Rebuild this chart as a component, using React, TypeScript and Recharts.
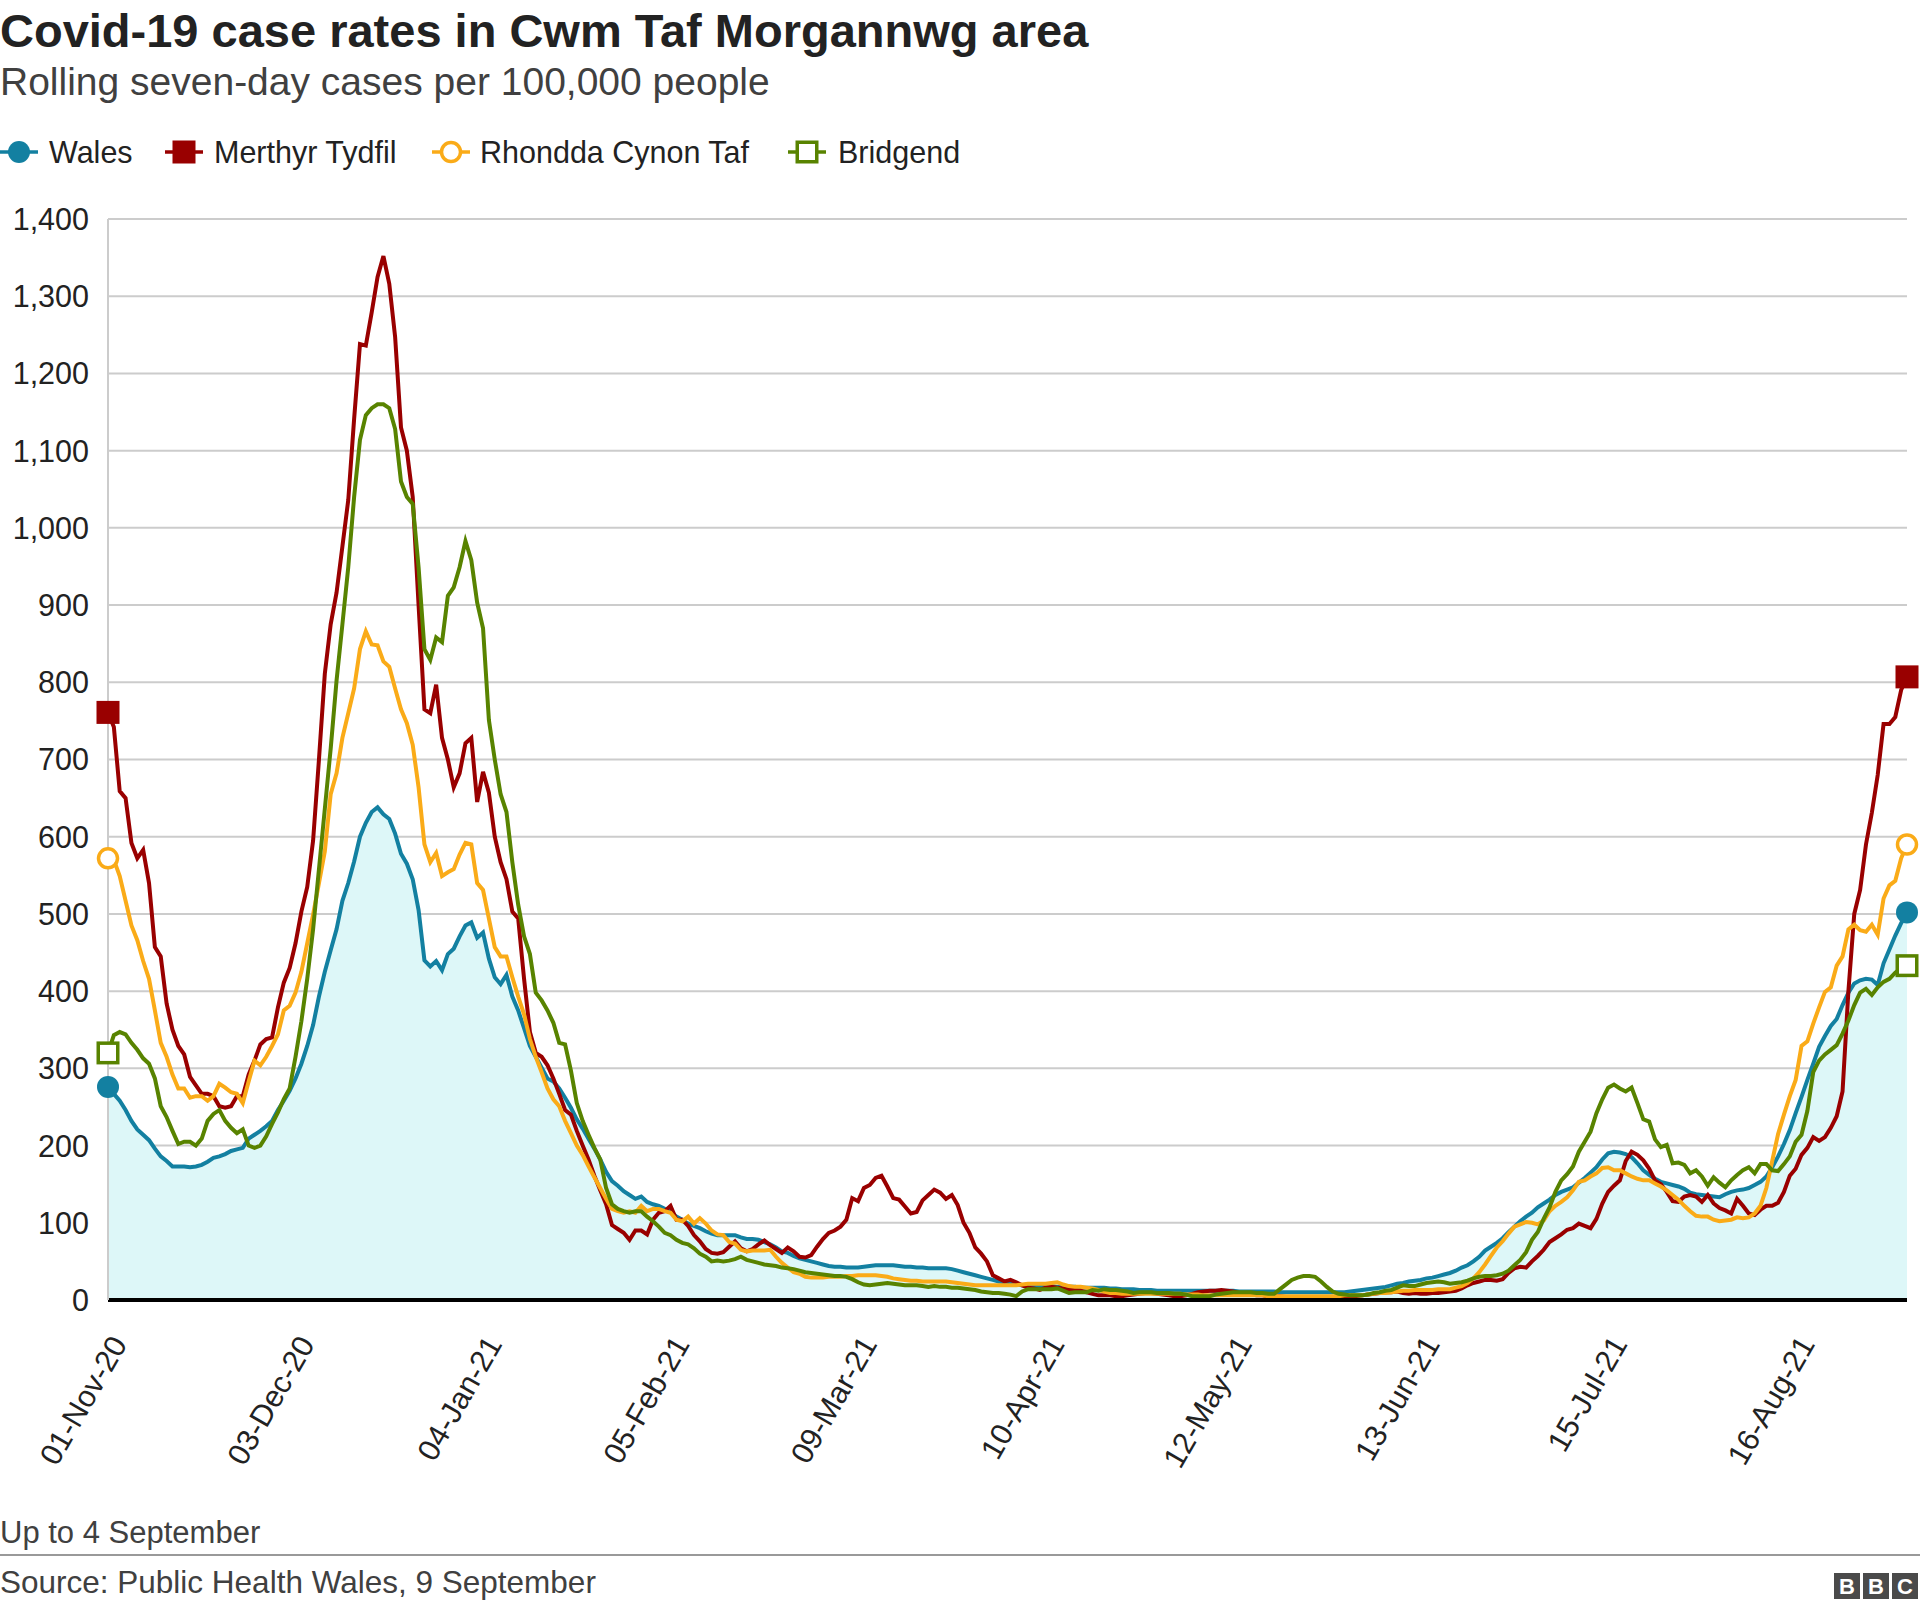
import React from "react";
import { Area, CartesianGrid, ComposedChart, Line, XAxis, YAxis } from "recharts";

// day 0 = 01-Nov-20, last day = 04-Sep-21
const TICK_DAYS = [0, 32, 64, 96, 128, 160, 192, 224, 256, 288];
const TICK_LABELS = ["01-Nov-20", "03-Dec-20", "04-Jan-21", "05-Feb-21", "09-Mar-21", "10-Apr-21", "12-May-21", "13-Jun-21", "15-Jul-21", "16-Aug-21"];
const Y_TICKS = [0, 100, 200, 300, 400, 500, 600, 700, 800, 900, 1000, 1100, 1200, 1300, 1400];

const WALES = [
  276, 267, 258, 246, 232, 221, 214, 207, 196, 186,
  180, 173, 173, 173, 172, 173, 175, 179, 184, 186,
  189, 193, 195, 197, 209, 214, 219, 225, 232, 246,
  258, 271, 287, 306, 329, 356, 393, 425, 453, 480,
  517, 540, 568, 600, 618, 632, 638, 629, 623, 604,
  578, 565, 545, 505, 440, 432, 439, 427, 448, 455,
  471, 485, 489, 469, 476, 442, 418, 409, 421, 393,
  375, 352, 329, 315, 301, 287, 283, 274, 262, 249,
  234, 222, 209, 196, 182, 166, 154, 148, 141, 136,
  131, 134, 127, 124, 122, 118, 115, 108, 104, 99,
  96, 93, 89, 86, 84, 84, 84, 84, 81, 79,
  79, 78, 75, 72, 68, 63, 61, 57, 54, 52,
  50, 48, 46, 44, 43, 43, 42, 42, 42, 43,
  44, 45, 45, 45, 45, 44, 43, 43, 42, 42,
  41, 41, 41, 41, 40, 38, 36, 34, 32, 30,
  28, 26, 24, 23, 21, 20, 19, 19, 18, 18,
  18, 18, 17, 17, 17, 17, 16, 16, 16, 16,
  16, 15, 15, 14, 14, 14, 13, 13, 13, 12,
  12, 12, 12, 12, 12, 12, 12, 12, 12, 12,
  12, 12, 12, 11, 11, 11, 11, 11, 11, 11,
  10, 10, 10, 10, 10, 10, 10, 10, 10, 10,
  10, 10, 11, 12, 13, 14, 15, 16, 17, 19,
  21, 22, 24, 25, 26, 28, 29, 31, 33, 35,
  38, 42, 45, 50, 56, 64, 69, 74, 80, 88,
  95, 102, 108, 113, 120, 125, 130, 136, 140, 143,
  146, 152, 158, 165, 172, 182, 190, 192, 191, 189,
  185, 177, 168, 162, 157, 153, 151, 149, 147, 144,
  139, 137, 136, 135, 134, 133, 137, 140, 142, 143,
  145, 149, 153, 160, 172, 186, 202, 220, 242, 263,
  285, 306, 328, 342, 355, 364, 382, 398, 410, 414,
  416, 415, 408, 436, 454, 472, 488, 502,
];

const MERTHYR = [
  761, 742, 659, 650, 592, 572, 583, 540, 457, 445,
  384, 350, 329, 318, 289, 278, 267, 267, 264, 251,
  249, 251, 264, 264, 292, 310, 331, 338, 340, 379,
  411, 430, 462, 503, 535, 595, 700, 811, 875, 916,
  976, 1036, 1141, 1238, 1236, 1279, 1325, 1352, 1316, 1247,
  1130, 1100, 1040, 900, 765, 760, 797, 728, 700, 664,
  682, 721, 728, 645, 684, 657, 600, 567, 545, 503,
  494, 416, 347, 320, 315, 304, 287, 267, 246, 240,
  219, 200, 182, 161, 142, 124, 97, 92, 87, 78,
  90, 90, 85, 104, 113, 115, 122, 104, 104, 96,
  84, 76, 66, 61, 60, 62, 69, 76, 67, 63,
  66, 72, 77, 71, 66, 61, 68, 63, 56, 55,
  58, 69, 79, 87, 90, 95, 104, 132, 128, 145,
  149, 158, 161, 147, 132, 130, 121, 112, 114, 129,
  136, 143, 139, 131, 136, 123, 100, 87, 68, 60,
  50, 32, 28, 24, 26, 23, 19, 16, 15, 13,
  16, 17, 16, 15, 13, 13, 12, 10, 8, 6,
  6, 6, 5, 5, 6, 7, 8, 9, 9, 8,
  7, 6, 5, 5, 6, 8, 10, 11, 12, 12,
  13, 12, 11, 9, 8, 7, 6, 6, 5, 5,
  5, 4, 4, 4, 4, 4, 4, 4, 3, 3,
  3, 4, 4, 5, 6, 7, 8, 9, 10, 10,
  11, 9, 8, 9, 8, 8, 9, 9, 10, 11,
  12, 15, 19, 22, 24, 26, 26, 25, 27, 35,
  41, 43, 42, 50, 57, 65, 75, 80, 85, 91,
  93, 99, 96, 93, 105, 125, 140, 148, 155, 180,
  192, 188, 181, 170, 155, 150, 140, 128, 127, 134,
  136, 134, 127, 136, 125, 119, 116, 112, 131, 122,
  112, 110, 117, 122, 122, 126, 140, 161, 170, 188,
  197, 211, 206, 211, 223, 238, 270, 400, 500, 531,
  590, 631, 680, 746, 746, 755, 790, 807,
];

const RHONDDA = [
  572, 570, 549, 517, 485, 466, 439, 416, 375, 333,
  315, 292, 274, 274, 262, 264, 264, 258, 264, 280,
  275, 269, 267, 255, 283, 310, 304, 315, 329, 344,
  375, 381, 398, 425, 462, 499, 540, 581, 655, 682,
  728, 760, 792, 843, 866, 849, 848, 827, 820, 792,
  765, 747, 719, 664, 590, 567, 579, 549, 554, 558,
  577, 592, 590, 540, 531, 494, 457, 445, 445, 418,
  393, 370, 338, 315, 295, 274, 260, 251, 232, 216,
  200, 188, 173, 159, 145, 131, 118, 115, 113, 115,
  113, 122, 115, 118, 118, 115, 113, 104, 102, 108,
  99, 106, 99, 90, 85, 84, 75, 73, 65, 63,
  64, 64, 64, 65, 56, 48, 42, 36, 34, 30,
  29, 29, 29, 30, 30, 30, 31, 31, 32, 32,
  32, 32, 31, 30, 28, 27, 26, 25, 25, 24,
  24, 24, 24, 24, 23, 22, 21, 20, 19, 19,
  19, 19, 19, 19, 19, 19, 20, 21, 21, 21,
  21, 22, 23, 20, 18, 17, 17, 16, 15, 13,
  11, 9, 9, 8, 8, 8, 8, 8, 8, 8,
  8, 8, 8, 8, 7, 7, 7, 6, 6, 6,
  6, 6, 6, 6, 6, 6, 6, 6, 5, 5,
  5, 5, 5, 5, 5, 5, 5, 5, 5, 5,
  5, 6, 6, 6, 6, 7, 8, 9, 9, 10,
  11, 12, 12, 13, 13, 13, 13, 14, 14, 14,
  16, 18, 22, 28, 36, 46, 57, 68, 76, 86,
  95, 98, 101, 100, 98, 103, 115, 122, 127, 133,
  142, 153, 155, 160, 164, 171, 172, 168, 168, 164,
  160, 157, 155, 155, 151, 147, 142, 136, 130, 122,
  115, 109, 108, 108, 104, 102, 103, 104, 107, 106,
  107, 112, 122, 145, 180, 215, 240, 264, 285, 329,
  335, 358, 379, 399, 405, 433, 445, 480, 486, 479,
  477, 486, 473, 520, 537, 543, 572, 590,
];

const BRIDGEND = [
  320, 343, 347, 344, 333, 324, 313, 306, 287, 251,
  237, 219, 202, 205, 205, 200, 209, 232, 241, 246,
  232, 223, 216, 221, 200, 197, 200, 212, 228, 243,
  260, 274, 315, 361, 416, 480, 558, 636, 714, 802,
  875, 949, 1040, 1114, 1146, 1155, 1160, 1160, 1155, 1128,
  1060, 1040, 1031, 949, 843, 829, 858, 852, 912, 923,
  949, 983, 958, 903, 870, 751, 700, 655, 632, 567,
  512, 471, 448, 398, 388, 375, 359, 333, 331, 297,
  255, 232, 214, 197, 182, 145, 124, 118, 115, 113,
  115, 115, 108, 102, 95, 87, 84, 78, 74, 72,
  67, 60, 56, 50, 51, 50, 51, 53, 56, 52,
  50, 48, 46, 45, 44, 42, 41, 40, 38, 36,
  35, 34, 33, 32, 31, 31, 30, 27, 23, 20,
  19, 20, 21, 22, 21, 20, 19, 19, 19, 18,
  17, 18, 17, 17, 16, 16, 15, 14, 13, 11,
  10, 9, 9, 8, 7, 5, 11, 14, 14, 14,
  14, 14, 15, 12, 9, 10, 10, 10, 13, 12,
  14, 13, 13, 12, 11, 9, 10, 10, 10, 9,
  9, 9, 8, 8, 7, 5, 5, 5, 5, 7,
  8, 9, 10, 10, 10, 10, 9, 9, 8, 8,
  14, 20, 26, 29, 31, 31, 30, 24, 17, 11,
  8, 7, 6, 6, 6, 7, 9, 10, 12, 13,
  16, 19, 18, 18, 20, 22, 23, 24, 23, 21,
  22, 23, 25, 28, 30, 31, 31, 32, 34, 38,
  45, 52, 62, 78, 88, 105, 120, 140, 155, 163,
  173, 192, 205, 218, 242, 260, 275, 279, 274, 270,
  275, 255, 234, 231, 208, 198, 201, 177, 178, 175,
  164, 168, 160, 148, 159, 152, 146, 155, 162, 168,
  172, 164, 176, 176, 168, 167, 176, 186, 205, 214,
  245, 295, 310, 318, 324, 330, 345, 362, 382, 398,
  403, 395, 405, 412, 416, 424, 430, 433,
];

const LAST = WALES.length - 1;
const PLOT_BOTTOM = 1300;
const FONT = "'Liberation Sans', Arial, Helvetica, sans-serif";

const COLORS = { wales: "#1380A1", merthyr: "#990000", rhondda: "#FAAB18", bridgend: "#588300" };

const data = WALES.map((w, i) => ({
  day: i,
  wales: w,
  merthyr: MERTHYR[i],
  rhondda: RHONDDA[i],
  bridgend: BRIDGEND[i],
}));

const Marker = ({ kind, color, open, cx, cy }: any) => {
  if (kind === "circle") {
    return open
      ? <circle cx={cx} cy={cy} r={9.5} fill="#fff" stroke={color} strokeWidth={3.5} />
      : <circle cx={cx} cy={cy} r={11} fill={color} />;
  }
  const s = open ? 19.5 : 23;
  return (
    <rect x={cx - s / 2} y={cy - s / 2} width={s} height={s}
      fill={open ? "#fff" : color} stroke={open ? color : "none"} strokeWidth={open ? 3.5 : 0} />
  );
};

const endDot = (kind: string, color: string, open: boolean) => (props: any) => {
  const { cx, cy, index } = props;
  const k = `${color}-${index}`;
  if ((index !== 0 && index !== LAST) || cx == null) return <g key={k} />;
  return <g key={k}><Marker kind={kind} color={color} open={open} cx={cx} cy={cy} /></g>;
};

const XTick = (props: any) => {
  const { x, payload } = props;
  const label = TICK_LABELS[TICK_DAYS.indexOf(payload.value)];
  const ax = x + 20;
  const ay = PLOT_BOTTOM + 44;
  return (
    <text x={ax} y={ay} transform={`rotate(-60 ${ax} ${ay})`} textAnchor="end"
      fontSize={30.5} fontFamily={FONT} fill="#222">{label}</text>
  );
};

const YTick = (props: any) => {
  const { y, payload } = props;
  return (
    <text x={89} y={y} dy="0.36em" textAnchor="end" fontSize={30.5} fontFamily={FONT} fill="#222">
      {payload.value.toLocaleString("en-US")}
    </text>
  );
};

const LEGEND = [
  { name: "Wales", kind: "circle", color: COLORS.wales, open: false, cx: 19, tx: 49 },
  { name: "Merthyr Tydfil", kind: "square", color: COLORS.merthyr, open: false, cx: 184, tx: 214 },
  { name: "Rhondda Cynon Taf", kind: "circle", color: COLORS.rhondda, open: true, cx: 451, tx: 480 },
  { name: "Bridgend", kind: "square", color: COLORS.bridgend, open: true, cx: 807, tx: 838 },
];

export default function App() {
  return (
    <div style={{ position: "absolute", left: 0, top: 0, width: 1920, height: 1609, background: "#fff", fontFamily: FONT }}>
      <div style={{ position: "absolute", left: 0, top: 0 }}>
        <ComposedChart width={1920} height={1500} data={data}
          margin={{ top: 219, right: 13, bottom: 80, left: 0 }}>
          <CartesianGrid vertical={false} stroke="#cccccc" strokeWidth={2} />
          <XAxis dataKey="day" type="number" domain={[0, LAST]} ticks={TICK_DAYS} interval={0}
            tick={<XTick />} tickLine={false} height={120}
            axisLine={{ stroke: "#000", strokeWidth: 4 }} />
          <YAxis domain={[0, 1400]} ticks={Y_TICKS} interval={0} width={108}
            tick={<YTick />} tickLine={false} axisLine={{ stroke: "#cccccc", strokeWidth: 2 }} />
          <Area type="linear" dataKey="wales" stroke="none" fill="#ddf7f8" fillOpacity={1}
            isAnimationActive={false} dot={false} activeDot={false} />
          <Line type="linear" dataKey="wales" stroke={COLORS.wales} strokeWidth={4}
            dot={endDot("circle", COLORS.wales, false)} activeDot={false} isAnimationActive={false} />
          <Line type="linear" dataKey="merthyr" stroke={COLORS.merthyr} strokeWidth={4}
            dot={endDot("square", COLORS.merthyr, false)} activeDot={false} isAnimationActive={false} />
          <Line type="linear" dataKey="rhondda" stroke={COLORS.rhondda} strokeWidth={4}
            dot={endDot("circle", COLORS.rhondda, true)} activeDot={false} isAnimationActive={false} />
          <Line type="linear" dataKey="bridgend" stroke={COLORS.bridgend} strokeWidth={4}
            dot={endDot("square", COLORS.bridgend, true)} activeDot={false} isAnimationActive={false} />
        </ComposedChart>
      </div>
      <svg width={1920} height={1609} style={{ position: "absolute", left: 0, top: 0, pointerEvents: "none" }}
        fontFamily={FONT}>
        <text x={0} y={47} fontSize={47} fontWeight="bold" fill="#222">
          Covid-19 case rates in Cwm Taf Morgannwg area
        </text>
        <text x={0} y={95} fontSize={39} fill="#404040">Rolling seven-day cases per 100,000 people</text>
        {LEGEND.map((l) => (
          <g key={l.name}>
            <line x1={l.cx - 19} x2={l.cx + 19} y1={152} y2={152} stroke={l.color} strokeWidth={3.5} />
            <Marker kind={l.kind} color={l.color} open={l.open} cx={l.cx} cy={152} />
            <text x={l.tx} y={163} fontSize={30.5} fill="#222">{l.name}</text>
          </g>
        ))}
        <text x={0} y={1543} fontSize={31} fill="#404040">Up to 4 September</text>
        <line x1={0} x2={1920} y1={1555} y2={1555} stroke="#999" strokeWidth={2} />
        <text x={0} y={1593} fontSize={31.5} fill="#404040">Source: Public Health Wales, 9 September</text>
        {["B", "B", "C"].map((c, i) => (
          <g key={i}>
            <rect x={1834 + i * 29} y={1573} width={26} height={26} fill="#4a4a4a" />
            <text x={1847 + i * 29} y={1594} fontSize={22} fontWeight="bold" fill="#fff" textAnchor="middle">{c}</text>
          </g>
        ))}
      </svg>
    </div>
  );
}
